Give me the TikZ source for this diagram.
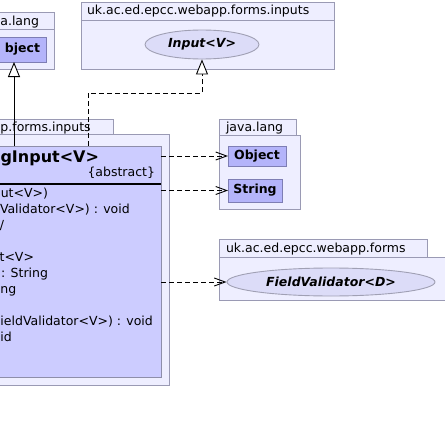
\documentclass[tikz,border=0pt]{standalone}
\usepackage{fontspec}
\setmainfont{DejaVu Sans}
\usetikzlibrary{shapes.geometric,arrows.meta}
\definecolor{pkgfill}{HTML}{EEEEFF}
\definecolor{pkgdraw}{HTML}{9A9AB4}
\definecolor{clsfill}{HTML}{CCCCFF}
\definecolor{clsdraw}{HTML}{8E8EAA}
\definecolor{boxfill}{HTML}{B4B4FA}
\definecolor{boxdraw}{HTML}{7E7EB4}
\definecolor{elfill}{HTML}{DCDCF8}
\definecolor{eldraw}{HTML}{A0A0B4}
\tikzset{
  rectat/.style n args={2}{rectangle,inner sep=0pt,outer sep=0pt,minimum width=#1,minimum height=#2},
  pkg/.style={draw=pkgdraw,fill=pkgfill,line width=0.9pt},
  clsbox/.style={draw=clsdraw,fill=clsfill,line width=0.9pt},
  refbox/.style={draw=boxdraw,fill=boxfill,line width=0.9pt,font=\fontsize{12.5}{14}\selectfont\bfseries},
  iface/.style={ellipse,draw=eldraw,fill=elfill,line width=0.9pt,inner sep=0pt,font=\fontsize{12.5}{14}\selectfont\bfseries\itshape},
  txt/.style={inner sep=0pt,outer sep=0pt,font=\fontsize{12.5}{14}\selectfont},
  ttl/.style={inner sep=0pt,outer sep=0pt,font=\fontsize{16}{18}\selectfont\bfseries},
  gen/.style={line width=0.9pt,-{Triangle[length=15pt,width=12pt,fill=white]}},
  real/.style={line width=0.9pt,dash pattern=on 5pt off 3pt,-{Triangle[length=15pt,width=12pt,fill=white]}},
  dep/.style={line width=0.9pt,dash pattern=on 5pt off 3pt,-{Straight Barb[length=11pt,width=8pt]}}
}
\begin{document}
\begin{tikzpicture}[x=1pt,y=-1pt]
\useasboundingbox (0,0) rectangle (445,423);
\clip (0,0) rectangle (445,423);
% package java.lang (top left)
\node[pkg,rectat={64pt}{17pt}] (pA-tab) at (22,20.5) {};
\node[pkg,rectat={64pt}{40pt}] (pA) at (22,49) {};
\node[txt,anchor=base east] (pA-lbl) at (39,25) {a.lang};
\node[refbox,rectat={56pt}{25pt}] (objA) at (18,49.5) {};
\node[txt,font=\fontsize{12.5}{14}\selectfont\bfseries,anchor=east] (objA-lbl) at (40,49.5) {bject};
% package forms.inputs (top)
\node[pkg,rectat={253pt}{18pt}] (pB-tab) at (207.5,11) {};
\node[pkg,rectat={253pt}{49pt}] (pB) at (207.5,44.5) {};
\node[txt,anchor=base west] (pB-lbl) at (87,15) {uk.ac.ed.epcc.webapp.forms.inputs};
\node[iface,minimum width=114pt,minimum height=29pt] (inp) at (202,44.5) {Input<V>};
% package forms.inputs (bottom left)
\node[pkg,rectat={123pt}{15pt}] (pC-tab) at (51.5,126.5) {};
\node[pkg,rectat={179pt}{251pt}] (pC) at (79.5,259.5) {};
\node[txt,anchor=base west] (pC-lbl) at (0.5,131) {p.forms.inputs};
% class box
\node[clsbox,rectat={171pt}{231pt}] (cls) at (75.5,261.5) {};
\node[ttl,anchor=base east] (cls-name) at (99,162) {gInput<V>};
\node[txt,anchor=base east] (cls-abs) at (155,176) {\{abstract\}};
\draw[line width=2pt] (cls.west |- 0,184) coordinate (sepL) -- (cls.east |- 0,184) coordinate (sepR);
\node[txt,anchor=base east] (m1) at (48,197) {ut<V>)};
\node[txt,anchor=base west] (m2) at (0,213) {Validator<V>) : void};
\node[txt,anchor=base east] (m3) at (4,229) {/};
\node[txt,anchor=base east] (m4) at (34,261) {t<V>};
\node[txt,anchor=base east] (m5) at (48,277) {: String};
\node[txt,anchor=base west] (m6) at (0.5,293) {ng};
\node[txt,anchor=base west] (m7) at (0.5,325) {ieldValidator<V>) : void};
\node[txt,anchor=base west] (m8) at (0.5,341) {id};
% package java.lang (right)
\node[pkg,rectat={77pt}{16pt}] (pD-tab) at (257.5,127) {};
\node[pkg,rectat={81pt}{74pt}] (pD) at (259.5,172) {};
\node[txt,anchor=base west] (pD-lbl) at (226,131.5) {java.lang};
\node[refbox,rectat={58pt}{20pt}] (objB) at (257,156) {Object};
\node[refbox,rectat={54pt}{23pt}] (strB) at (255,190.5) {String};
% package forms (right)
\node[pkg,rectat={208pt}{18pt}] (pE-tab) at (323,248) {};
\node[pkg,rectat={241pt}{43pt}] (pE) at (339.5,278.5) {};
\node[txt,anchor=base west] (pE-lbl) at (226,252.5) {uk.ac.ed.epcc.webapp.forms};
\node[iface,minimum width=208pt,minimum height=28pt] (fv) at (331,282) {FieldValidator<D>};
% connectors
\coordinate (g1) at (14,146);
\draw[gen] (g1) -- (g1 |- objA.south);
\coordinate (r1) at (88,146);
\coordinate (r2) at (88,93);
\draw[real] (r1) -- (r2) -| (inp.south);
\draw[dep] (cls.east |- objB) -- (objB.west);
\draw[dep] (cls.east |- strB) -- (strB.west);
\draw[dep] (cls.east |- fv) -- (fv.west);
\end{tikzpicture}
\end{document}
